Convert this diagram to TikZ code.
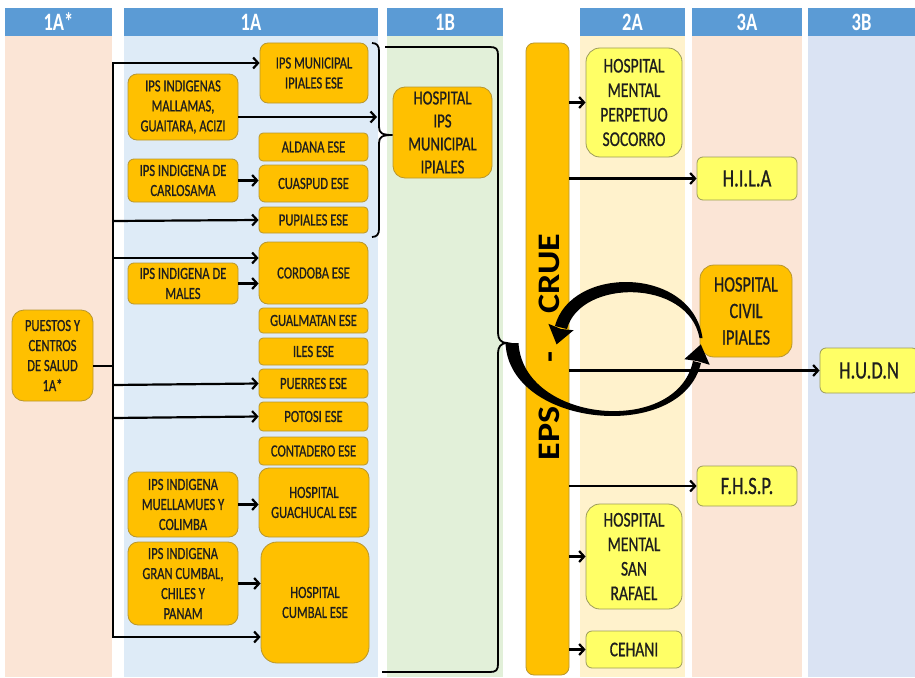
\documentclass[tikz,border=0pt]{standalone}
\usepackage{fontspec}
\usepackage{graphicx}
\setmainfont{Carlito}[FakeStretch=0.74, UprightFeatures={FakeBold=0.7}]
\newfontfamily\epsfont{Carlito}
\usetikzlibrary{arrows.meta}
\definecolor{hdrblue}{HTML}{5B9BD5}
\definecolor{bgsal}{HTML}{FBE5D6}
\definecolor{bgblue}{HTML}{DEEBF7}
\definecolor{bggreen}{HTML}{E2F0D9}
\definecolor{bgyel}{HTML}{FFF2CC}
\definecolor{bgblue2}{HTML}{DAE3F3}
\definecolor{orng}{HTML}{FFC000}
\definecolor{orngb}{HTML}{B8962E}
\definecolor{yel}{HTML}{FFFF66}
\definecolor{yelb}{HTML}{9C9C5A}
\definecolor{txtc}{HTML}{1E1E1E}
\newcommand\bx[7]{\node[#1, minimum width={#5-#3}, minimum height={#6-#4}] (#2) at ({(#3+#5)/2},{(#4+#6)/2}) {#7};}
\tikzset{
  hdrbox/.style={fill=hdrblue, text=white, font=\fontsize{25}{28}\selectfont\bfseries, inner sep=0pt},
  ob/.style={draw=orngb, fill=orng, line width=0.8pt, align=center, inner sep=1pt, text=txtc, font=\fontsize{17}{20}\selectfont},
  obl/.style={ob, font=\fontsize{20}{23}\selectfont},
  yb/.style={draw=yelb, fill=yel, line width=0.8pt, align=center, inner sep=1pt, text=txtc, font=\fontsize{21}{24.5}\selectfont},
  bigtxt/.style={font=\fontsize{25}{28}\selectfont},
  arr/.style={line width=2.2pt, -{Straight Barb[length=5pt,width=11pt]}},
  ln/.style={line width=2.2pt, line cap=rect},
  brc/.style={line width=1.8pt},
}
\begin{document}
\begin{tikzpicture}[x=1pt,y=-1pt]
\useasboundingbox (0,0) rectangle (915,677);
\fill[white] (0,0) rectangle (915,677);
% column backgrounds
\fill[bgsal] (5,36) rectangle (112,677);
\fill[bgblue] (124,36) rectangle (378,677);
\fill[bggreen] (387,36) rectangle (503,677);
\fill[bgyel] (580,36) rectangle (685,677);
\fill[bgsal] (692,36) rectangle (802,677);
\fill[bgblue2] (808,36) rectangle (915,677);
% headers
\bx{hdrbox}{h1as}{5}{8}{112}{36}{1A*}
\bx{hdrbox}{h1a}{124}{8}{378}{36}{1A}
\bx{hdrbox}{h1b}{387}{8}{503}{36}{1B}
\bx{hdrbox}{h2a}{580}{8}{685}{36}{2A}
\bx{hdrbox}{h3a}{692}{8}{802}{36}{3A}
\bx{hdrbox}{h3b}{808}{8}{915}{36}{3B}
% level 1A* and 1A nodes
\bx{ob, rounded corners=12pt}{puestos}{12}{310}{93}{401}{PUESTOS Y\\CENTROS\\DE SALUD\\1A*}
\bx{ob, rounded corners=8pt}{ipsmun}{260}{43}{368}{103}{IPS MUNICIPAL\\IPIALES ESE}
\bx{ob, rounded corners=9pt}{mall}{128}{74}{238}{140}{IPS INDIGENAS\\MALLAMAS,\\GUAITARA, ACIZI}
\bx{ob, rounded corners=4pt}{aldana}{259}{133}{368}{161}{ALDANA ESE}
\bx{ob, rounded corners=6pt}{carlo}{128}{159}{238}{202}{IPS INDIGENA DE\\CARLOSAMA}
\bx{ob, rounded corners=6pt}{cuaspud}{259}{165}{368}{202}{CUASPUD ESE}
\bx{ob, rounded corners=4pt}{pupiales}{259}{207}{368}{233}{PUPIALES ESE}
\bx{ob, rounded corners=9pt}{cordoba}{259}{242}{368}{304}{CORDOBA ESE}
\bx{ob, rounded corners=6pt}{males}{128}{263}{238}{304}{IPS INDIGENA DE\\MALES}
\bx{ob, rounded corners=4pt}{gualmatan}{259}{308}{368}{333}{GUALMATAN ESE}
\bx{ob, rounded corners=4pt}{iles}{259}{338}{368}{365}{ILES ESE}
\bx{ob, rounded corners=4pt}{puerres}{259}{369}{368}{398}{PUERRES ESE}
\bx{ob, rounded corners=4pt}{potosi}{259}{402}{368}{431}{POTOSI ESE}
\bx{ob, rounded corners=4pt}{contadero}{259}{437}{368}{465}{CONTADERO ESE}
\bx{ob, rounded corners=9pt}{muella}{128}{472}{238}{537}{IPS INDIGENA\\MUELLAMUES Y\\COLIMBA}
\bx{ob, rounded corners=10pt}{guachucal}{259}{468}{369}{537}{HOSPITAL\\GUACHUCAL ESE}
\bx{ob, rounded corners=10pt}{grancumbal}{128}{542}{238}{625}{IPS INDIGENA\\GRAN CUMBAL,\\CHILES Y\\PANAM}
\bx{ob, rounded corners=16pt}{cumbal}{261}{542}{369}{663}{HOSPITAL\\CUMBAL ESE}
% level 1B
\bx{obl, rounded corners=12pt}{hipsm}{393}{87}{492}{178}{HOSPITAL\\IPS\\MUNICIPAL\\IPIALES}
% EPS - CRUE bar
\bx{ob, rounded corners=8pt}{eps}{526}{43}{569}{675}{}
\node[rotate=90, inner sep=0pt, text=black] (epstxt) at (549,347)
  {\scalebox{1}[0.87]{\epsfont\bfseries\fontsize{36}{40}\selectfont EPS\hspace{44pt}-\hspace{38pt}CRUE}};
% levels 2A, 3A, 3B
\bx{yb, rounded corners=14pt}{perp}{586}{48}{682}{157}{HOSPITAL\\MENTAL\\PERPETUO\\SOCORRO}
\bx{yb, bigtxt, rounded corners=6pt}{hila}{697}{157}{797}{200}{H.I.L.A}
\bx{obl, font=\fontsize{22}{26.5}\selectfont, rounded corners=14pt}{civil}{700}{265}{792}{357}{HOSPITAL\\CIVIL\\IPIALES}
\bx{yb, bigtxt, rounded corners=6pt}{hudn}{820}{348}{918}{393}{H.U.D.N}
\bx{yb, bigtxt, rounded corners=6pt}{fhsp}{697}{466}{797}{506}{F.H.S.P.}
\bx{yb, rounded corners=14pt}{rafael}{586}{504}{682}{609}{HOSPITAL\\MENTAL\\SAN\\RAFAEL}
\bx{yb, rounded corners=6pt}{cehani}{586}{631}{682}{668}{CEHANI}
% left distribution line
\coordinate (vt) at (113,63);
\coordinate (vb) at (113,637);
\coordinate (vc) at (113,258);
\coordinate (vp) at (113,366);
\draw[ln] (vt) -- (vb);
\draw[line width=2.2pt] (puestos.east |- vp) -- (vp);
\draw[arr] (vt) -- (vt -| ipsmun.west);
\draw[arr] (113,221) -- (pupiales.west);
\draw[arr] (vc) -- (vc -| cordoba.west);
\draw[arr] (113,385) -- (puerres.west);
\draw[arr] (113,418) -- (potosi.west);
\draw[arr] (vb) -- (vb -| cumbal.west);
% indigenous IPS arrows
\coordinate (bracein) at (377,117);
\draw[arr] (mall.east |- bracein) -- (bracein);
\draw[arr] (carlo.east) -- (carlo.east -| cuaspud.west);
\draw[arr] (males.east) -- (males.east -| cordoba.west);
\draw[arr] (muella.east) -- (muella.east -| guachucal.west);
\draw[arr] (grancumbal.east) -- (grancumbal.east -| cumbal.west);
% small brace to 1B
\coordinate (b1tip) at (hipsm.west |- 0,135);
\draw[brc] (372,43) .. controls (377,43) and (379,46) .. (379,51) -- (379,127)
  .. controls (379,133) and (382,135) .. (b1tip)
  .. controls (382,135) and (379,137) .. (379,143) -- (379,229)
  .. controls (379,234) and (377,237) .. (372,237);
% big brace to EPS - CRUE
\coordinate (b2tip) at (507,343);
\draw[brc] (385,47) -- (490,47) .. controls (496,47) and (498,49) .. (498,55) -- (498,333)
  .. controls (498,339) and (501,343) .. (b2tip)
  .. controls (501,343) and (498,347) .. (498,353) -- (498,664)
  .. controls (498,670) and (496,672) .. (490,672) -- (382,672);
% arrows from EPS - CRUE
\draw[arr] (eps.east |- perp.west) -- (perp.west);
\draw[arr] (eps.east |- hila.west) -- (hila.west);
\draw[arr] (eps.east |- hudn.west) -- (hudn.west);
\draw[arr] (eps.east |- fhsp.west) -- (fhsp.west);
\draw[arr] (eps.east |- rafael.west) -- (rafael.west);
\draw[arr] (eps.east |- cehani.west) -- (cehani.west);
% circular arrows between EPS-CRUE and Hospital Civil (tapered)
\fill[black] (702.5,338) .. controls (692,266) and (571,265) .. (555,326)
  -- (567,329) .. controls (580,279) and (688,278) .. (699.5,338) -- cycle;
\fill[black] (548.4,323.8) -- (556.6,344.4) -- (573.6,330.2) -- (561,329) -- cycle;
\fill[black] (505.5,343) .. controls (509,428) and (682,444) .. (701,363)
  -- (693,361) .. controls (677,437) and (523,423) .. (518.5,343) -- cycle;
\fill[black] (684.3,359.2) -- (700.8,344.4) -- (709.7,364.8) -- (697,361) -- cycle;
\end{tikzpicture}
\end{document}
